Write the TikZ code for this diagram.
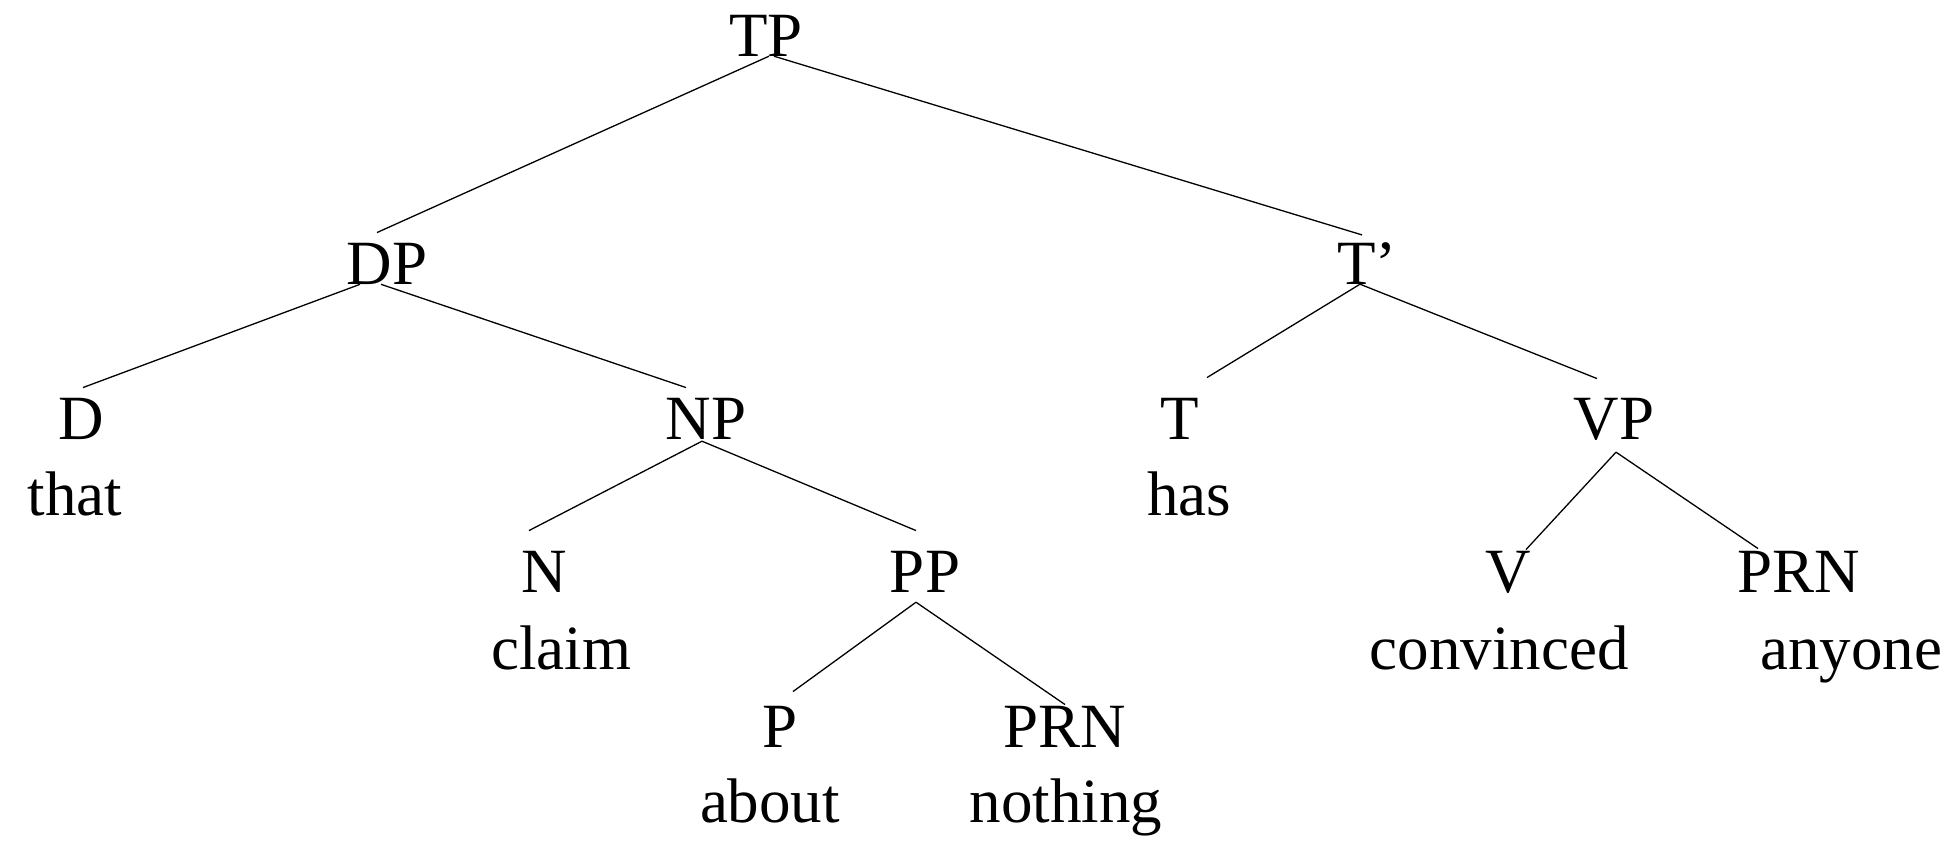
\documentclass[tikz,border=0pt]{standalone}
\usepackage{fontspec}
\setmainfont{Liberation Serif}
\begin{document}
\begin{tikzpicture}[x=1pt,y=-1pt,
  lbl/.style={inner sep=0pt, anchor=base, font=\fontsize{63}{70}\selectfont},
  br/.style={line width=1.3pt}]
\useasboundingbox (0,0) rectangle (1959,844);
% categories
\node[lbl] (TP) at (766,56) {TP};
\node[lbl] (DP) at (387,284) {DP};
\node[lbl] (Tbar) at (1367,284) {T’};
\node[lbl] (D) at (81,439) {D};
\node[lbl] (NP) at (706,439) {NP};
\node[lbl] (T) at (1180,439) {T};
\node[lbl] (VP) at (1614,439) {VP};
\node[lbl] (N) at (544,592) {N};
\node[lbl] (PP) at (925,592) {PP};
\node[lbl] (V) at (1508,592) {V};
\node[lbl] (PRNa) at (1799,592) {PRN};
\node[lbl] (P) at (780,747) {P};
\node[lbl] (PRNb) at (1065,747) {PRN};
% words
\node[lbl] (that) at (75,515) {that};
\node[lbl] (has) at (1189,515) {has};
\node[lbl] (claim) at (561,669) {claim};
\node[lbl] (convinced) at (1499,669) {convinced};
\node[lbl] (anyone) at (1851,669) {anyone};
\node[lbl] (about) at (770,822) {about};
\node[lbl] (nothing) at (1066,822) {nothing};
% branches
\draw[br] ([xshift=3pt]TP.south) -- ([xshift=-10pt,yshift=10pt]DP.north);
\draw[br] ([xshift=8pt]TP.south) -- ([xshift=-5pt,yshift=7pt]Tbar.north);
\draw[br] ([xshift=-27pt]DP.south) -- ([xshift=2pt,yshift=10pt]D.north);
\draw[br] ([xshift=-6pt]DP.south) -- ([xshift=-20pt,yshift=10pt]NP.north);
\draw[br] ([xshift=-4pt,yshift=-2pt]NP.south) -- ([xshift=-15pt,yshift=20pt]N.north);
\draw[br] ([xshift=-4pt,yshift=-2pt]NP.south) -- ([xshift=-9pt,yshift=20pt]PP.north);
\draw[br] ([xshift=-9pt,yshift=-10pt]PP.south) -- ([xshift=13pt,yshift=14pt]P.north);
\draw[br] ([xshift=-9pt,yshift=-10pt]PP.south) -- ([yshift=1pt]PRNb.north);
\draw[br] ([xshift=-7pt]Tbar.south) -- ([xshift=27pt,yshift=20pt]T.north);
\draw[br] ([xshift=-7pt]Tbar.south) -- ([xshift=-17pt,yshift=19pt]VP.north);
\draw[br] ([xshift=2pt,yshift=-12pt]VP.south) -- ([xshift=18pt,yshift=1pt]V.north);
\draw[br] ([xshift=2pt,yshift=-12pt]VP.south) -- ([xshift=-41pt,yshift=2pt]PRNa.north);
\end{tikzpicture}
\end{document}
